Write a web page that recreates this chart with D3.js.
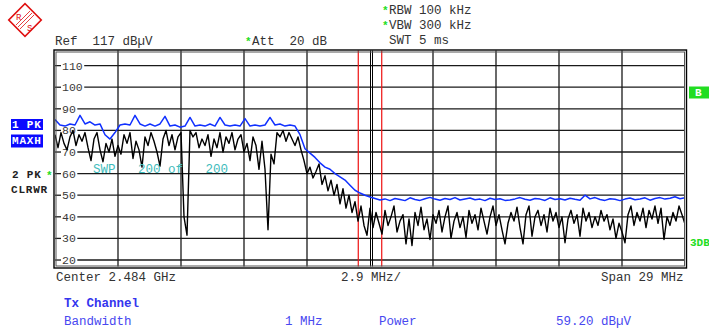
<!DOCTYPE html>
<html><head><meta charset="utf-8">
<script src="https://cdn.jsdelivr.net/npm/d3@7"></script>
<style>
body{margin:0;background:#fff}
svg{display:block}
text{font-family:"Liberation Mono","DejaVu Sans Mono",monospace}
</style>
</head><body>
<svg id="c" width="709" height="333"></svg>
<script>
// ---- settings / data ----
const refLevel = 117;          // dBµV
const dbRange = 100;           // 10 dB/div
const spanMHz = 29;
const divMHz = 2.9;
const yTicks = [110,100,90,80,70,60,50,40,30,20];
const channelEdges = [-0.54, 0.54];   // MHz offsets (Tx channel, 1 MHz)
const centerLines = [0, 0.11];        // MHz offsets
// Trace 2 (PK, CLRWR) black, dBµV, equally spaced across the span
const trace2 = [
78,72,79,74,71,77,80,73,78,75,79,72,66,76,79,71,65.5,74,70,76,
68,73,69,78,74,79,67,75,71,63,77,73,79,75,70,63.5,76,80,73,78,
71,77,79,40,31.5,80,77,79,72,76,73,78,68,76,72,79,70,77,74,79,
71,76,78,70,74,66,77,73,62,75,62,34,69,64.5,79,77,80,75,79,76,
73,77,71,66,60,63,58,61,64.5,55,59,52,57,50,55,46,53,44,50,42,
47,38,45,36,31.5,44,35,42,37,32,43,36,40,45,33,38,41,27.5,39,26.7,
42,36,44.5,34,39,29.5,41,37,43,33,40,45,30,38,42,35,40,30.5,43,37,
41,34,44,38,32,40,45,36,41,34,27.5,37,42,38,44.5,35,27.5,41,45,31,
40,43,36,41,33,44,38,42,35,40,28,39,43,37,41,31,44,38,42,35,
40,36,43,38,41,34,39,30,37,33,28,41,45,36,42,38,44,35,43,39,
45,37,44,29.5,40,36,42,38,45,41,36.5
];
// Trace 1 (PK, MAXH) blue
const trace1 = [
85,82.5,82,83,82.5,87,83,84,82.5,83,78,76,79,82.5,83,82.5,87,83,82,83,
82,83,86.5,82,82.5,81.5,82,86,82,82.5,82,83,82,86,82.5,82,82.5,82,85.5,82,
82.5,82,82.5,86,82.5,83,82,82.5,82,78,71.5,69.5,67.5,65,63,62,60,58.5,57,54.6,
52.3,51,50,49.2,48.5,47.8,48.3,
47.5,48.5,48,47.5,48.8,48,47.6,48.4,49,48.2,47.7,48.5,48,48.9,47.8,48.3,48.7,47.9,48.2,47.5,
48.6,48,48.4,47.6,47.8,48.3,48.9,48.1,47.7,48.5,48.2,47.6,48.8,48,48.4,47.8,48.6,48.1,47.7,50,
48.3,48.9,48,47.6,48.4,48.1,47.5,48.2,48.7,47.9,48.3,48.8,47.7,48.5,48.9,48.2,48.6,49.3,48.4,48.8
];

// ---- drawing ----
const svg = d3.select("#c");
svg.append("rect").attr("width",709).attr("height",333).attr("fill","#fff");

const x = d3.scaleLinear().domain([-spanMHz/2, spanMHz/2]).range([55, 685]);
const y = d3.scaleLinear().domain([refLevel - dbRange, refLevel]).range([266.5, 50.5]);

const gridColor = "#1a1a1a";
// vertical grid
const xGrid = d3.range(0, 11).map(k => -spanMHz/2 + k*divMHz);
svg.append("g").selectAll("line").data(xGrid.slice(1,-1).filter(d => Math.abs(d) > 1e-9)).join("line")
  .attr("x1", d => x(d)).attr("x2", d => x(d))
  .attr("y1", y(refLevel)).attr("y2", y(refLevel-dbRange))
  .attr("stroke", gridColor).attr("stroke-width", 1.3);

// horizontal grid with labels
const yg = svg.append("g");
yTicks.forEach(t => {
  const yy = y(t);
  const tx = yg.append("text").attr("x", 62).attr("y", yy).attr("dy","0.35em")
    .attr("font-size", 11.5).attr("fill", "#3a3a3a").text(t);
  const w = tx.node().getComputedTextLength();
  yg.append("line").attr("x1", 55).attr("x2", 61).attr("y1", yy).attr("y2", yy)
    .attr("stroke", gridColor).attr("stroke-width", 1.3);
  yg.append("line").attr("x1", 62 + w + 1.5).attr("x2", 685).attr("y1", yy).attr("y2", yy)
    .attr("stroke", gridColor).attr("stroke-width", 1.3);
});

// center lines & channel edges
svg.append("g").selectAll("line").data(centerLines).join("line")
  .attr("x1", d => Math.round(x(d)) + 0.5).attr("x2", d => Math.round(x(d)) + 0.5)
  .attr("y1", y(refLevel)).attr("y2", y(refLevel-dbRange))
  .attr("stroke", "#000").attr("stroke-width", 1);
svg.append("g").selectAll("line").data(channelEdges).join("line")
  .attr("x1", d => x(d)).attr("x2", d => x(d))
  .attr("y1", y(refLevel)).attr("y2", y(refLevel-dbRange))
  .attr("stroke", "#ee1111").attr("stroke-width", 1.2);

// clip
svg.append("clipPath").attr("id","plot").append("rect")
  .attr("x", 55).attr("y", 51).attr("width", 630).attr("height", 215);

function freqOf(i, n){ return -spanMHz/2 + spanMHz * i/(n-1); }
const line = d3.line().x(d => x(d[0])).y(d => y(d[1]));

svg.append("path").attr("clip-path","url(#plot)")
  .attr("d", line(trace2.map((v,i) => [freqOf(i, trace2.length), v])))
  .attr("fill","none").attr("stroke","#000").attr("stroke-width",1.4).attr("stroke-linejoin","round");
svg.append("path").attr("clip-path","url(#plot)")
  .attr("d", line(trace1.map((v,i) => [freqOf(i, trace1.length), v])))
  .attr("fill","none").attr("stroke","#1030ff").attr("stroke-width",1.5).attr("stroke-linejoin","round");

// frame
svg.append("rect").attr("x", 54).attr("y", 50).attr("width", 632.5).attr("height", 218)
  .attr("fill","none").attr("stroke","#000").attr("stroke-width",1.4);
svg.append("rect").attr("x", 56).attr("y", 52).attr("width", 628.5).attr("height", 214)
  .attr("fill","none").attr("stroke","#555").attr("stroke-width",1);

// SWP text
svg.append("text").attr("x", 93).attr("y", 173).attr("font-size", 12.5)
  .attr("fill", "#3fbcbc").style("white-space","pre")
  .text("SWP   200 of   200");

// header texts
const hdr = [
  {x:55, y:45, t:"Ref  117 dBµV"},
  {x:252, y:45, t:"Att  20 dB"},
  {x:389, y:14, t:"RBW 100 kHz"},
  {x:389, y:29, t:"VBW 300 kHz"},
  {x:389, y:44, t:"SWT 5 ms"},
  {x:56, y:281, t:"Center 2.484 GHz"},
  {x:341, y:281, t:"2.9 MHz/"},
  {x:601, y:281, t:"Span 29 MHz"}
];
svg.append("g").selectAll("text").data(hdr).join("text")
  .attr("x", d => d.x).attr("y", d => d.y).attr("font-size", 12.5).attr("fill", "#333")
  .style("white-space","pre").text(d => d.t);

// green stars
const stars = [{x:245,y:45},{x:382,y:14},{x:382,y:29},{x:46,y:179}];
svg.append("g").selectAll("text").data(stars).join("text")
  .attr("x", d => d.x).attr("y", d => d.y).attr("font-size", 11).attr("font-weight","bold")
  .attr("fill", "#22dd22").text("*");

// left trace labels
svg.append("rect").attr("x", 11).attr("y", 119).attr("width", 32).attr("height", 11).attr("fill", "#0a0aff");
svg.append("rect").attr("x", 11).attr("y", 134.5).attr("width", 32).attr("height", 13).attr("fill", "#0a0aff");
const lbl = [
  {x:12, y:128, t:"1 PK", c:"#fff"},
  {x:12, y:143.5, t:"MAXH", c:"#fff"},
  {x:12, y:178, t:"2 PK", c:"#222"},
  {x:11, y:193, t:"CLRWR", c:"#222"}
];
svg.append("g").selectAll("text").data(lbl).join("text")
  .attr("x", d => d.x).attr("y", d => d.y).attr("font-size", 11).attr("font-weight","bold")
  .attr("letter-spacing", 0.8).attr("fill", d => d.c).style("white-space","pre").text(d => d.t);

// right side
svg.append("rect").attr("x", 689).attr("y", 86.5).attr("width", 21).attr("height", 12).attr("fill", "#22dd22");
svg.append("text").attr("x", 695).attr("y", 96).attr("font-size", 11).attr("font-weight","bold").attr("fill","#fff").text("B");
svg.append("text").attr("x", 690).attr("y", 246).attr("font-size", 11).attr("font-weight","bold").attr("fill","#22dd22").text("3DB");

// bottom channel info
svg.append("text").attr("x", 64).attr("y", 307).attr("font-size", 12.5).attr("font-weight","bold").attr("fill","#3535ee").text("Tx Channel");
const info = [{x:64,t:"Bandwidth"},{x:285,t:"1 MHz"},{x:379,t:"Power"},{x:556,t:"59.20 dBµV"}];
svg.append("g").selectAll("text").data(info).join("text")
  .attr("x", d => d.x).attr("y", 325).attr("font-size", 12.5).attr("fill","#4848f0")
  .style("white-space","pre").text(d => d.t);

// R&S logo
const logo = svg.append("g").attr("transform","translate(25,20)");
logo.append("rect").attr("x",-11.5).attr("y",-11.5).attr("width",23).attr("height",23)
  .attr("transform","rotate(45)").attr("fill","#fff").attr("stroke","#e01010").attr("stroke-width",1.6);
[-2,0,2].forEach(o => {
  logo.append("line").attr("x1",-7+o).attr("y1",7+o).attr("x2",7+o).attr("y2",-7+o)
    .attr("stroke","#e01010").attr("stroke-width",0.8);
});
logo.append("text").attr("x",-9).attr("y",0).attr("font-family","Liberation Sans, Arial, sans-serif")
  .attr("font-size",9).attr("fill","#e01010").text("R");
logo.append("text").attr("x",2).attr("y",11).attr("font-family","Liberation Sans, Arial, sans-serif")
  .attr("font-size",9).attr("fill","#e01010").text("S");
</script>
</body></html>
